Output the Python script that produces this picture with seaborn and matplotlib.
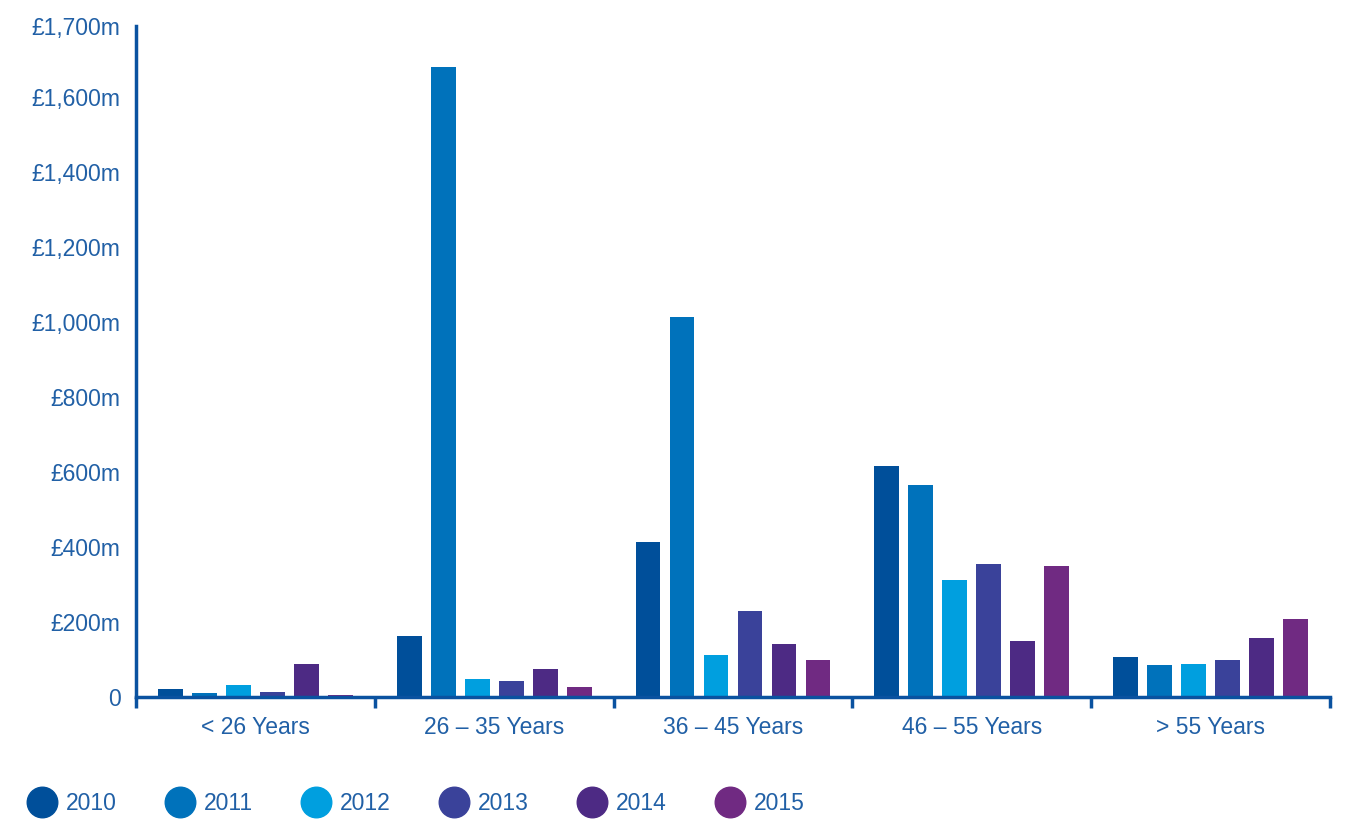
import matplotlib
matplotlib.use("Agg")
import matplotlib.pyplot as plt
from matplotlib.lines import Line2D
import seaborn as sns
import pandas as pd

categories = ["< 26 Years", "26 – 35 Years", "36 – 45 Years", "46 – 55 Years", "> 55 Years"]
years = ["2010", "2011", "2012", "2013", "2014", "2015"]
v2010 = [21, 163, 413, 616, 107]
v2011 = [11, 1680, 1013, 565, 85]
v2012 = [32, 48, 112, 312, 88]
v2013 = [13, 43, 229, 355, 99]
v2014 = [89, 75, 141, 149, 157]
v2015 = [5, 27, 99, 349, 208]
colors = ["#004f9a", "#0072bb", "#009fdf", "#3a429a", "#4d2a84", "#702a82"]
ytick_vals = [0, 200, 400, 600, 800, 1000, 1200, 1400, 1600]
ytick_labels = ["0", "£200m", "£400m", "£600m", "£800m", "£1,000m", "£1,200m", "£1,400m", "£1,600m"]
top_label = "£1,700m"

series = [v2010, v2011, v2012, v2013, v2014, v2015]
rows = []
for y, vals in zip(years, series):
    for c, v in zip(categories, vals):
        rows.append({"category": c, "year": y, "value": v})
df = pd.DataFrame(rows)

sns.set_theme(style="white")
plt.rcParams["font.family"] = ["Liberation Sans", "DejaVu Sans"]

txt = "#2160a6"
axc = "#0a52a0"

fig = plt.figure(figsize=(13.48, 8.19), dpi=100)
ax = fig.add_axes([136/1348, 1-697/819, (1330-136)/1348, (697-26)/819])

sns.barplot(data=df, x="category", y="value", hue="year", order=categories,
            hue_order=years, palette=colors, width=0.855, gap=0.27,
            saturation=1, ax=ax, legend=False, linewidth=0)

ytop = (697 - 26) / 0.375
ax.set_ylim(0, ytop)
ax.set_xlim(-0.5, len(categories) - 0.5)
ax.set_yticks(ytick_vals + [ytop])
ax.set_yticklabels(ytick_labels + [top_label])
ax.set_xlabel("")
ax.set_ylabel("")

for s in ["top", "right"]:
    ax.spines[s].set_visible(False)
for s in ["left", "bottom"]:
    ax.spines[s].set_color(axc)
    ax.spines[s].set_linewidth(2.5)

ax.tick_params(axis="y", left=True, length=0, pad=11, labelsize=16.5, labelcolor=txt)
ax.tick_params(axis="x", which="major", bottom=True, length=0, pad=14, labelsize=16.5, labelcolor=txt)
ax.set_xticks([i - 0.5 for i in range(len(categories) + 1)], minor=True)
ax.tick_params(axis="x", which="minor", bottom=True, length=8, width=2.5, color=axc, direction="out")

handles = [Line2D([0], [0], marker="o", linestyle="none", markersize=22,
                  markerfacecolor=c, markeredgecolor=c) for c in colors]
leg = fig.legend(handles, years, loc="center left", bbox_to_anchor=(0.014, 1-804/819),
                 ncol=6, frameon=False, fontsize=16.5, handlelength=1.2,
                 handletextpad=0.45, columnspacing=2.15, borderaxespad=0)
for t in leg.get_texts():
    t.set_color(txt)

fig.savefig("out.png", dpi=100)
